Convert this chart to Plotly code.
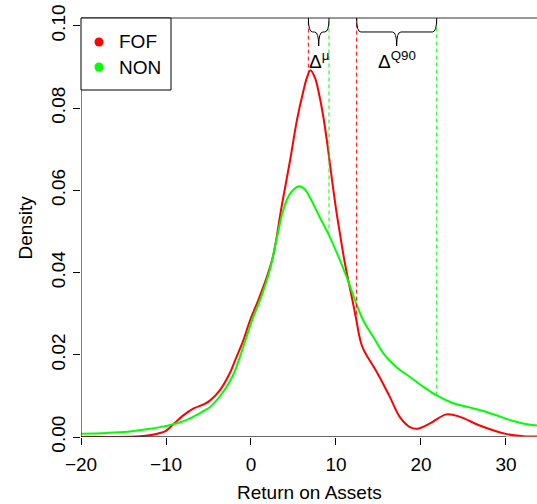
import numpy as np
import plotly.graph_objects as go

# ---- data ----
roa_fof = [-20, -16, -13, -12, -11, -10, -9.14, -8, -6.8, -5.5, -4.8, -3.65, -2.5, -1.7, -0.9, -0.1,
           0.86, 1.8, 2.6, 3.6, 4.6, 5.4, 6.1, 6.6, 7.0, 7.5, 8.0, 8.5, 9.0, 9.5, 10.0, 10.5, 11.0,
           11.45, 12.0, 12.4, 12.7, 13.0, 13.4, 13.8, 14.4, 15.2, 16.35, 17.5, 18.7, 19.56, 21.06, 23.0,
           24.6, 26.9, 30.1, 32.0, 33.65]
dens_fof = [0.0, 0.00002, 0.0002, 0.0004, 0.0008, 0.0015, 0.0031, 0.0052, 0.0069, 0.0080, 0.0089,
            0.0114, 0.0155, 0.0195, 0.0235, 0.0284, 0.0333, 0.0385, 0.0440, 0.0560, 0.0673, 0.0770,
            0.0836, 0.0875, 0.0892, 0.0875, 0.0835, 0.0780, 0.0710, 0.0630, 0.0555, 0.0490, 0.0428,
            0.0381, 0.0326, 0.0284, 0.0250, 0.0225, 0.0206, 0.0192, 0.0172, 0.0143, 0.0097, 0.0049,
            0.0024, 0.0020, 0.0033, 0.0055, 0.0049, 0.0028, 0.0007, 0.0002, 0.0001]

roa_non = [-20, -17, -14.5, -12.5, -10.7, -9.14, -8, -6.8, -5.5, -4.8, -3.8, -2.86, -2.0, -1.3, -0.5,
           0.27, 1.06, 2.2, 3.0, 3.8, 4.6, 5.7, 6.3, 7.0, 8.0, 9.1, 10.2, 11.26, 12.2, 13.2, 14.4,
           15.6, 17.1, 18.7, 20.3, 21.85, 23.8, 25.7, 27.7, 29.0, 30.5, 32.0, 33.65]
dens_non = [0.0008, 0.0010, 0.0013, 0.0018, 0.0024, 0.0031, 0.0038, 0.0049, 0.0064, 0.0073, 0.0095,
            0.0122, 0.0155, 0.0195, 0.0245, 0.0292, 0.0333, 0.0405, 0.0480, 0.0552, 0.0592, 0.0610,
            0.0603, 0.0580, 0.0538, 0.0494, 0.0443, 0.0389, 0.0335, 0.0284, 0.0243, 0.0203, 0.0170,
            0.0146, 0.0122, 0.0101, 0.0082, 0.0072, 0.0061, 0.0052, 0.0041, 0.0033, 0.0028]

groups = ["FOF", "NON"]
colors = ["#FF0000", "#00FF00"]
means = [6.75, 9.18]
q90s = [12.43, 21.85]

x_ticks = [-20, -10, 0, 10, 20, 30]
y_ticks = [0.00, 0.02, 0.04, 0.06, 0.08, 0.10]
y_tick_labels = ["0.00", "0.02", "0.04", "0.06", "0.08", "0.10"]

X_RANGE = [-20, 33.65]
Y_TOP = 0.1019
FONT = "Liberation Sans, Arial, Helvetica, sans-serif"
FS = 19

W, H = 537, 504
ML, MT, MB = 81, 18, 67
PW, PH = W - ML, H - MT - MB

fig = go.Figure()
series = [(roa_fof, dens_fof), (roa_non, dens_non)]
for (xs, ys), name, col in zip(series, groups, colors):
    fig.add_trace(go.Scatter(x=xs, y=ys, mode="lines", name=name,
                             line=dict(color=col, width=2, shape="spline", smoothing=1.0),
                             showlegend=False, hoverinfo="skip"))

shapes = []
# baseline (gray) and axes
shapes.append(dict(type="line", xref="paper", yref="y", x0=0, x1=1, y0=0, y1=0, line=dict(color="#999999", width=1)))
shapes.append(dict(type="line", xref="x", yref="y", x0=x_ticks[0], x1=x_ticks[-1], y0=0, y1=0, line=dict(color="black", width=1)))
shapes.append(dict(type="line", xref="x", yref="y", x0=X_RANGE[0], x1=X_RANGE[0], y0=y_ticks[0], y1=y_ticks[-1], line=dict(color="black", width=1)))
shapes.append(dict(type="line", xref="paper", yref="paper", x0=0, x1=1, y0=1, y1=1, line=dict(color="#333333", width=1)))

# dashed vertical lines at means and 90% quantiles
for (xs, ys), col, m, q in zip(series, colors, means, q90s):
    for v in (m, q):
        dv = float(np.interp(v, xs, ys))
        shapes.append(dict(type="line", xref="x", yref="y", x0=v, x1=v, y0=dv, y1=Y_TOP,
                           line=dict(color=col, width=1, dash="4px,3px")))

# braces
def brace(xa, xb, ytop=Y_TOP, ym=0.0985, yt=0.0951, r=0.5):
    xm = (xa + xb) / 2
    return (f"M {xa},{ytop} Q {xa},{ym} {xa + r},{ym} L {xm - r},{ym} Q {xm},{ym} {xm},{yt} "
            f"Q {xm},{ym} {xm + r},{ym} L {xb - r},{ym} Q {xb},{ym} {xb},{ytop}")

shapes.append(dict(type="path", xref="x", yref="y", path=brace(means[0], means[1]), line=dict(color="black", width=1)))
shapes.append(dict(type="path", xref="x", yref="y", path=brace(q90s[0], q90s[1]), line=dict(color="black", width=1)))

# legend box (drawn by hand, R style)
LEG_W, LEG_H = 90, 72
shapes.append(dict(type="rect", xref="paper", yref="paper", x0=0, x1=LEG_W / PW, y0=1 - LEG_H / PH, y1=1,
                   fillcolor="white", line=dict(color="black", width=1), layer="above"))
annotations = []
for i, (name, col) in enumerate(zip(groups, colors)):
    yc = 1 - (24 + 25 * i) / PH
    shapes.append(dict(type="circle", xref="paper", yref="paper", xsizemode="pixel", ysizemode="pixel",
                       xanchor=18 / PW, yanchor=yc, x0=-4.5, x1=4.5, y0=-4.5, y1=4.5,
                       fillcolor=col, line=dict(color=col, width=0), layer="above"))
    annotations.append(dict(x=36 / PW, y=yc, xref="paper", yref="paper", text=name, showarrow=False,
                            xanchor="left", yanchor="middle", font=dict(family=FONT, size=FS, color="black")))

annotations += [
    dict(x=(means[0] + means[1]) / 2, y=0.0951, xref="x", yref="y", text="Δ<sup>μ</sup>", showarrow=False,
         yanchor="top", xanchor="center", font=dict(family=FONT, size=FS, color="black")),
    dict(x=(q90s[0] + q90s[1]) / 2, y=0.0951, xref="x", yref="y", text="Δ<sup>Q90</sup>", showarrow=False,
         yanchor="top", xanchor="center", font=dict(family=FONT, size=FS, color="black")),
    dict(x=0.5, y=-55 / PH, xref="paper", yref="paper", text="Return on Assets", showarrow=False,
         yanchor="middle", xanchor="center", font=dict(family=FONT, size=FS, color="black")),
    dict(x=-56 / PW, y=0.5, xref="paper", yref="paper", text="Density", showarrow=False, textangle=-90,
         yanchor="middle", xanchor="center", font=dict(family=FONT, size=FS, color="black")),
]

fig.update_layout(
    width=W, height=H,
    margin=dict(l=ML, r=0, t=MT, b=MB, pad=0),
    paper_bgcolor="white", plot_bgcolor="white",
    font=dict(family=FONT, size=FS, color="black"),
    shapes=shapes, annotations=annotations, showlegend=False,
    xaxis=dict(range=X_RANGE, tickvals=x_ticks, ticks="outside", ticklen=7, tickcolor="black", showgrid=False,
               zeroline=False, showline=False, ticklabelstandoff=3, automargin=False,
               tickfont=dict(family=FONT, size=FS, color="black")),
    yaxis=dict(range=[0, Y_TOP], tickvals=y_ticks, ticktext=y_tick_labels, ticks="outside", ticklen=7,
               tickcolor="black", tickangle=-90, showgrid=False, zeroline=False, showline=False, automargin=False,
               tickfont=dict(family=FONT, size=FS, color="black")),
)

fig.write_html("out.html", config={"displayModeBar": False},
               post_script="document.body.style.margin='0';document.body.style.overflow='hidden';")
